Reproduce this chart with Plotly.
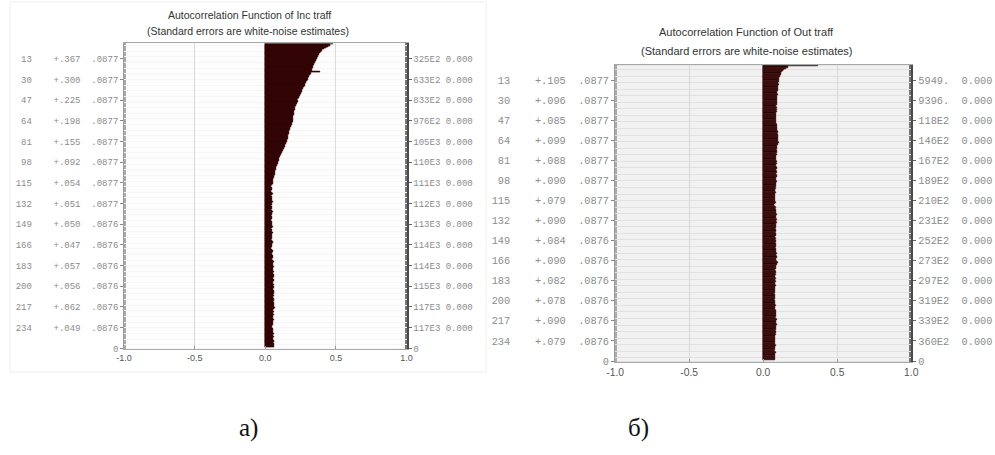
import plotly.graph_objects as go

W, H = 995, 455

# ---- data -------------------------------------------------------------
LAGS = list(range(1, 251))

ACF_INC = [
    .478, .462, .445, .430, .418, .405, .398, .390, .384, .378,
    .374, .370, .367, .362, .358, .352, .349, .345, .341, .338,
    .334, .331, .328, .385, .321, .316, .312, .308, .304, .300,
    .296, .291, .287, .283, .279, .275, .271, .266, .262, .258,
    .255, .251, .246, .242, .238, .233, .225, .229, .226, .222,
    .219, .216, .214, .211, .209, .207, .205, .204, .202, .200,
    .199, .197, .196, .198, .194, .191, .187, .183, .180, .177,
    .174, .172, .170, .168, .166, .164, .162, .160, .158, .157,
    .155, .150, .147, .143, .139, .135, .131, .127, .123, .119,
    .115, .112, .108, .105, .101, .098, .095, .092, .089, .086,
    .083, .080, .078, .075, .072, .070, .068, .066, .064, .062,
    .060, .058, .057, .055, .054, .052, .048, .043, .046, .050,
    .047, .044, .049, .052, .046, .043, .048, .051, .045, .049,
    .053, .051, .047, .044, .050, .048, .042, .046, .052, .049,
    .045, .043, .048, .051, .047, .044, .049, .046, .050, .048,
    .052, .047, .043, .046, .050, .054, .049, .045, .048, .051,
    .046, .044, .050, .053, .048, .047, .051, .045, .043, .049,
    .052, .055, .050, .047, .053, .058, .055, .051, .056, .059,
    .054, .052, .057, .060, .055, .053, .058, .061, .056, .054,
    .059, .062, .057, .055, .060, .063, .058, .054, .059, .056,
    .061, .058, .055, .060, .064, .059, .056, .061, .057, .054,
    .059, .063, .058, .060, .065, .061, .062, .066, .060, .057,
    .062, .058, .055, .060, .057, .053, .058, .061, .056, .052,
    .057, .054, .051, .049, .055, .058, .053, .056, .060, .055,
    .058, .062, .057, .054, .059, .063, .058, .061, .065, .060,
]

ACF_OUT = [
    .372, .168, .152, .141, .134, .128, .122, .119, .116, .113,
    .110, .108, .105, .109, .104, .101, .106, .103, .099, .102,
    .098, .101, .097, .095, .099, .096, .093, .097, .094, .096,
    .092, .095, .091, .094, .090, .093, .089, .092, .088, .091,
    .087, .090, .086, .089, .088, .084, .085, .088, .090, .087,
    .091, .094, .092, .096, .093, .097, .100, .096, .102, .098,
    .101, .104, .099, .099, .103, .106, .102, .098, .095, .097,
    .093, .090, .094, .091, .089, .092, .088, .086, .090, .087,
    .088, .091, .089, .093, .090, .087, .091, .094, .090, .088,
    .092, .089, .087, .091, .093, .089, .086, .090, .092, .088,
    .085, .088, .084, .082, .086, .083, .080, .084, .081, .079,
    .083, .080, .078, .082, .079, .081, .084, .080, .077, .081,
    .085, .082, .086, .089, .085, .088, .091, .087, .084, .088,
    .092, .090, .087, .091, .088, .085, .089, .086, .083, .087,
    .084, .081, .085, .088, .084, .082, .086, .083, .084, .087,
    .083, .086, .089, .085, .082, .087, .090, .086, .088, .091,
    .087, .090, .093, .089, .086, .090, .094, .101, .092, .088,
    .085, .089, .086, .083, .087, .084, .081, .085, .082, .080,
    .084, .081, .082, .086, .083, .080, .084, .081, .078, .082,
    .079, .083, .080, .077, .081, .078, .082, .079, .076, .078,
    .082, .079, .083, .086, .082, .079, .083, .087, .084, .088,
    .085, .089, .086, .083, .087, .091, .090, .086, .089, .092,
    .088, .085, .089, .086, .083, .087, .084, .081, .085, .082,
    .079, .083, .080, .079, .082, .078, .081, .084, .080, .083,
    .080, .077, .081, .084, .080, .078, .082, .079, .083, .080,
]

LABEL_LAGS = [13, 30, 47, 64, 81, 98, 115, 132, 149, 166, 183, 200, 217, 234]

SE_INC = [".0877", ".0877", ".0877", ".0877", ".0877", ".0877", ".0877",
          ".0877", ".0876", ".0876", ".0876", ".0876", ".0876", ".0876"]
SE_OUT = [".0877", ".0877", ".0877", ".0877", ".0877", ".0877", ".0877",
          ".0877", ".0876", ".0876", ".0876", ".0876", ".0876", ".0876"]

Q_INC = ["325E2", "633E2", "833E2", "976E2", "105E3", "110E3", "111E3",
         "112E3", "113E3", "114E3", "114E3", "115E3", "117E3", "117E3"]
Q_OUT = ["5949.", "9396.", "118E2", "146E2", "167E2", "189E2", "210E2",
         "231E2", "252E2", "273E2", "297E2", "319E2", "339E2", "360E2"]

P_INC = ["0.000"] * 14
P_OUT = ["0.000"] * 14

X_TICKS = [-1.0, -0.5, 0.0, 0.5, 1.0]
X_TICK_TEXT = ["-1.0", "-0.5", "0.0", "0.5", "1.0"]

TITLE_INC = "Autocorrelation Function of Inc traff"
TITLE_OUT = "Autocorrelation Function of Out traff"
SUBTITLE = "(Standard errors are white-noise estimates)"

# ---- styling ----------------------------------------------------------
BAR = "#2a0404"
BAR_EDGE = "#3a0707"
MONO = "Liberation Mono"
SANS = "Liberation Sans"
LAG_END = 251.5          # bottom tick of the lag axis
Y_RANGE = [252, 0.3]


def acf_text(v):
    return f"{v:+.3f}".replace("0.", ".", 1)


def left_labels(acf, se, gap):
    out = []
    for lag, s in zip(LABEL_LAGS, se):
        out.append(f"{lag:>3}{' ' * gap}{acf_text(acf[lag - 1])}  {s}")
    return out + ["0"]


def right_labels(q, p, gap):
    return [f"{a}{' ' * gap}{b}" for a, b in zip(q, p)] + ["0"]


def px_x(a, b):
    return [a / W, b / W]


def px_y(top, bottom):
    return [1 - bottom / H, 1 - top / H]


fig = go.Figure()

panels = [
    # acf, se, q, p, x, y, yr, xdom, ydom, font size, gaps, stripe colour
    (ACF_INC, SE_INC, Q_INC, P_INC, "x", "y", "y3",
     px_x(117, 404), px_y(44, 354), 9, 4, 1, "#fdfdfd"),
    (ACF_OUT, SE_OUT, Q_OUT, P_OUT, "x2", "y2", "y4",
     px_x(616, 917), px_y(66, 367), 10.3, 4, 2, "#f1f1f1"),
]

layout_axes = {}
for acf, se, q, p, xa, ya, yr, xdom, ydom, fs, gl, gr, stripe in panels:
    fig.add_trace(go.Bar(
        x=acf, y=LAGS, orientation="h", xaxis=xa, yaxis=ya,
        marker=dict(color=BAR, line=dict(color=BAR_EDGE, width=0.6)),
        showlegend=False, hoverinfo="skip"))
    # carrier for the right-hand statistics axis
    fig.add_trace(go.Scatter(
        x=acf, y=LAGS, xaxis=xa, yaxis=yr, mode="markers",
        marker=dict(opacity=0, size=1), showlegend=False, hoverinfo="skip"))

    xk = "xaxis" + xa[1:]
    yk = "yaxis" + ya[1:]
    rk = "yaxis" + yr[1:]
    layout_axes[xk] = dict(
        domain=xdom, anchor=ya, range=[-1, 1],
        tickmode="array", tickvals=X_TICKS, ticktext=X_TICK_TEXT,
        ticks="inside", ticklen=3, tickcolor="#999",
        showgrid=True, gridcolor="#d9d9d9", gridwidth=1, zeroline=False,
        showline=True, linecolor="#a8a8a8", linewidth=1, mirror=True,
        tickfont=dict(family=SANS, size=fs, color="#555"), fixedrange=True)
    layout_axes[yk] = dict(
        domain=ydom, anchor=xa, range=Y_RANGE,
        tickmode="array", tickvals=LABEL_LAGS + [LAG_END],
        ticktext=left_labels(acf, se, gl),
        ticks="outside", ticklen=3, tickcolor="#888",
        showline=True, linecolor="#9a9a9a", linewidth=1,
        showgrid=False, zeroline=False,
        minor=dict(tickmode="linear", tick0=0.5, dtick=1, ticks="inside",
                   ticklen=2, tickcolor="#aaa",
                   showgrid=True, gridcolor=stripe, gridwidth=0.5),
        tickfont=dict(family=MONO, size=fs, color="#8c8c8c"), fixedrange=True)
    layout_axes[rk] = dict(
        overlaying=ya, anchor=xa, side="right", range=Y_RANGE,
        tickmode="array", tickvals=LABEL_LAGS + [LAG_END],
        ticktext=right_labels(q, p, gr),
        ticks="outside", ticklen=3, tickcolor="#666",
        showline=True, linecolor="#4a4a4a", linewidth=2,
        showgrid=False, zeroline=False,
        minor=dict(tickmode="linear", tick0=0.5, dtick=1, ticks="inside",
                   ticklen=2, tickcolor="#777", showgrid=False),
        tickfont=dict(family=MONO, size=fs, color="#8c8c8c"), fixedrange=True)

annotations = []
for txt, x, y, fs in [
    (TITLE_INC, 244, 15, 10.5), (SUBTITLE, 243, 31, 10.5),
    (TITLE_OUT, 750, 32, 11), (SUBTITLE, 750, 52, 11),
]:
    annotations.append(dict(
        text=txt, x=x / W, y=1 - y / H, xref="paper", yref="paper",
        xanchor="center", yanchor="middle", showarrow=False,
        font=dict(family=SANS, size=fs, color="#333")))

for txt, x in [("а)", 243), ("б)", 640)]:
    annotations.append(dict(
        text=txt, x=x / W, y=1 - 434 / H, xref="paper", yref="paper",
        xanchor="center", yanchor="middle", showarrow=False,
        font=dict(family="Liberation Serif", size=25, color="#111")))

shapes = [
    # grey field behind the second correlogram
    dict(type="rect", xref="x2 domain", yref="y2 domain", x0=0, x1=1,
         y0=0, y1=1, fillcolor="#e1e1e1", line=dict(width=0), layer="below"),
    # faint frame around the first window
    dict(type="rect", xref="paper", yref="paper", x0=1 / W, x1=485 / W,
         y0=1 - 377 / H, y1=1 - 2 / H, fillcolor="rgba(0,0,0,0)",
         line=dict(color="#efefef", width=1), layer="below"),
]

fig.update_layout(
    width=W, height=H, margin=dict(l=0, r=0, t=0, b=0),
    paper_bgcolor="white", plot_bgcolor="#f6f6f6",
    bargap=0, showlegend=False,
    annotations=annotations, shapes=shapes,
    **layout_axes)

fig.write_html("out.html", config={"displayModeBar": False})
